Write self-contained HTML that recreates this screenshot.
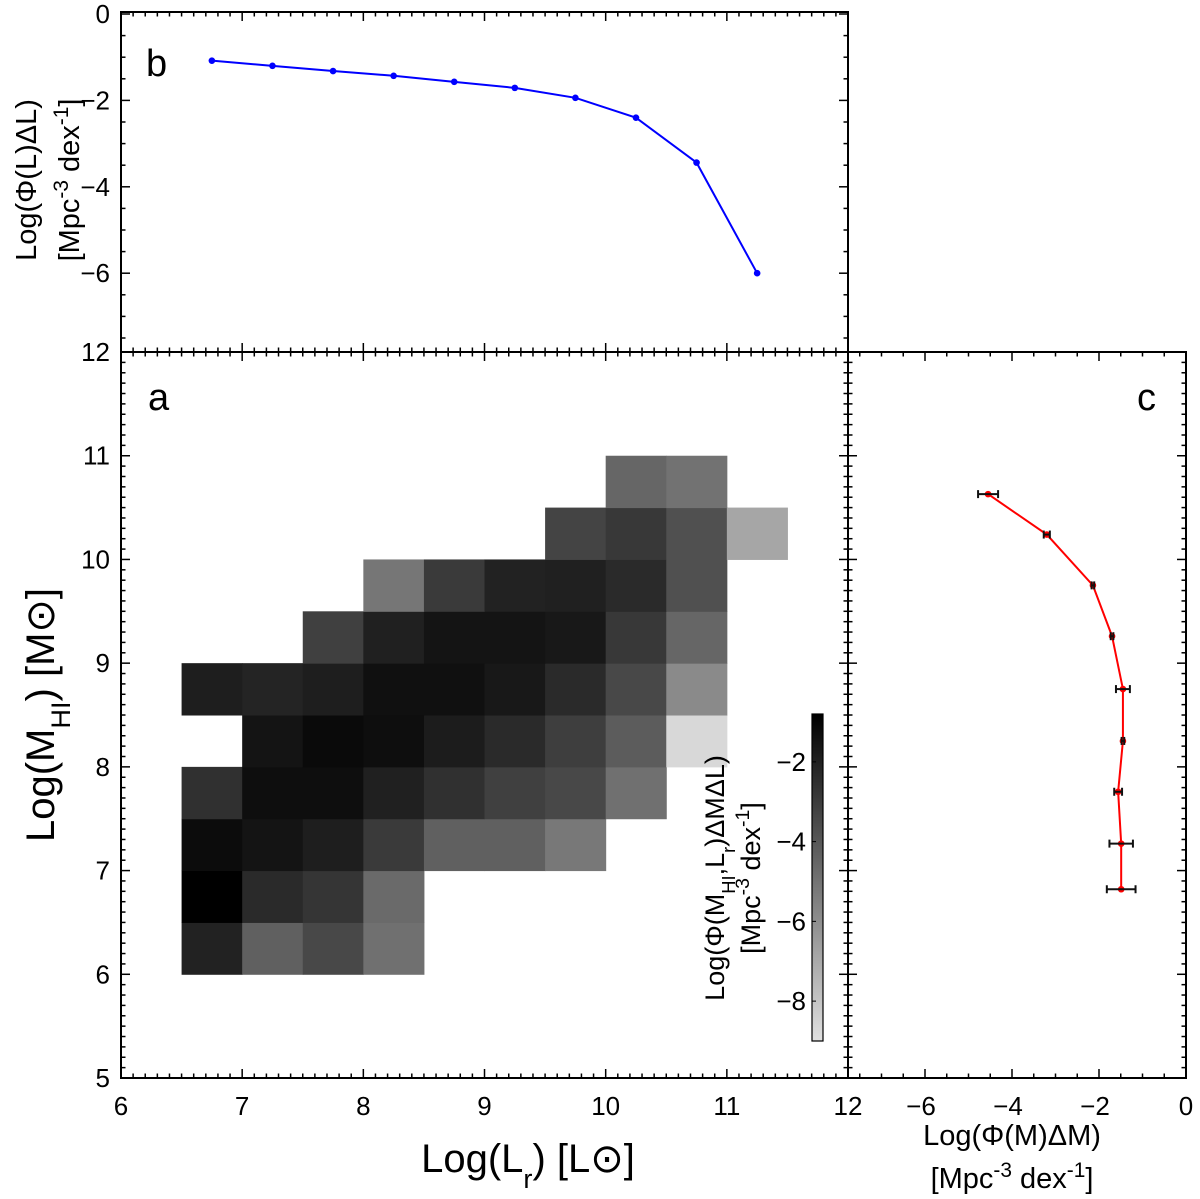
<!DOCTYPE html>
<html><head><meta charset="utf-8"><style>
html,body{margin:0;padding:0;background:#fff;}
svg{display:block;font-family:"Liberation Sans",sans-serif;}
</style></head><body>
<svg id="fig" width="1200" height="1199" viewBox="0 0 1200 1199"></svg>
<script>
// ---- data ----
const lumBins = [6.5,7,7.5,8,8.5,9,9.5,10,10.5,11];
const massBins = [6,6.5,7,7.5,8,8.5,9,9.5,10,10.5];
// heat values: rows = mass bins, columns = lum bins (null = empty)
const heatRow60 = [-2.04,-4.31,-3.44,-4.90,null,null,null,null,null,null];
const heatRow65 = [-0.80,-2.34,-2.74,-4.68,null,null,null,null,null,null];
const heatRow70 = [-1.24,-1.53,-1.90,-2.92,-4.31,-4.31,-5.19,null,null,null];
const heatRow75 = [-2.56,-1.31,-1.31,-1.97,-2.56,-3.14,-3.44,-4.90,null,null];
const heatRow80 = [null,-1.53,-1.17,-1.31,-1.82,-2.34,-3.07,-4.17,-8.70,null];
const heatRow85 = [-1.90,-2.12,-1.90,-1.39,-1.39,-1.68,-2.34,-3.44,-5.85,null];
const heatRow90 = [null,null,-3.14,-1.97,-1.53,-1.53,-1.68,-2.85,-4.53,null];
const heatRow95 = [null,null,null,-5.12,-2.92,-2.04,-1.97,-2.34,-3.73,null];
const heatRow100 = [null,null,null,null,null,null,-3.29,-2.85,-3.73,-6.88];
const heatRow105 = [null,null,null,null,null,null,null,-4.53,-4.97,null];
const heatRows = [heatRow60,heatRow65,heatRow70,heatRow75,heatRow80,heatRow85,heatRow90,heatRow95,heatRow100,heatRow105];
// panel b
const lfX = [6.75,7.25,7.75,8.25,8.75,9.25,9.75,10.25,10.75,11.25];
const lfY = [-1.08,-1.2,-1.32,-1.43,-1.57,-1.71,-1.94,-2.40,-3.44,-6.0];
// panel c
const mfM = [10.63,10.24,9.75,9.26,8.75,8.25,7.76,7.26,6.82];
const mfPhi = [-4.55,-3.2,-2.14,-1.7,-1.45,-1.45,-1.56,-1.49,-1.49];
const mfErr = [0.23,0.07,0.03,0.03,0.16,0.03,0.09,0.27,0.33];
const xTicksA = [6,7,8,9,10,11,12];
const yTicksA = [5,6,7,8,9,10,11,12];
const yTicksB = [0,-2,-4,-6];
const xTicksC = [-6,-4,-2,0];
const cbTicks = [-2,-4,-6,-8];

// ---- scales ----
const xA = v => 121 + (v-6)*121.17;
const yA = v => 1078 - (v-5)*103.71;
const yB = v => 14 - v*43.2;
const xC = v => 1186 + v*43.5;
const cbMax=-0.8, cbMin=-9.0;
const yCb = v => 714 + (cbMax-v)/(cbMax-cbMin)*327;
const grayOf = v => { const g=Math.round(Math.max(0,Math.min(1,(cbMax-v)/(cbMax-cbMin)))*224); return `rgb(${g},${g},${g})`; };

const svg=document.getElementById('fig');
const NS='http://www.w3.org/2000/svg';
function mk(tag,attrs,parent){const e=document.createElementNS(NS,tag);for(const k in attrs)e.setAttribute(k,attrs[k]);(parent||svg).appendChild(e);return e;}
function txt(s,x,y,size,anchor,parent){const t=mk('text',{x:x,y:y,'font-size':size,'text-anchor':anchor||'middle',fill:'#000'},parent);t.textContent=s;return t;}
const SUP = s => `<tspan font-size="0.72em" baseline-shift="super">${s}</tspan>`;
const SUB = s => `<tspan font-size="0.68em" baseline-shift="sub">${s}</tspan>`;
const UNITS = `[Mpc${SUP('-3')} dex${SUP('-1')}]`;

// heatmap
const gHeat=mk('g',{});


heatRows.forEach((row,ri)=>{row.forEach((v,ci)=>{ if(v===null)return;
  const r=mk('rect',{x:xA(lumBins[ci]),y:yA(massBins[ri]+0.5),width:xA(lumBins[ci]+0.5)-xA(lumBins[ci])+0.5,height:yA(massBins[ri])-yA(massBins[ri]+0.5)+0.5,fill:grayOf(v)},gHeat);
  
  
});});

// colorbar
const defs=mk('defs',{});
const lg=mk('linearGradient',{id:'cbg',x1:0,y1:0,x2:0,y2:1},defs);
mk('stop',{offset:0,'stop-color':grayOf(cbMax)},lg);
mk('stop',{offset:1,'stop-color':grayOf(cbMin)},lg);
const cb=mk('rect',{x:812,y:714,width:11,height:327,fill:'url(#cbg)',stroke:'#000','stroke-width':1.2});


cbTicks.forEach(v=>{mk('line',{x1:812,x2:816,y1:yCb(v),y2:yCb(v),stroke:'#000','stroke-width':1});
  const t=txt('−'+Math.abs(v),806,yCb(v)+9,26,'end');
  
  });
const cbt=mk('text',{transform:'translate(724,878) rotate(-90)','font-size':27,'text-anchor':'middle'});
cbt.innerHTML=`Log(Φ(M${SUB('HI')},L${SUB('r')})ΔMΔL)`;


const cbt2=mk('text',{transform:'translate(760,878) rotate(-90)','font-size':27,'text-anchor':'middle'});
cbt2.innerHTML=UNITS;



// frames
[[121,12,727,340,'panel-b-frame'],[121,352,727,726,'panel-a-frame'],[848,352,338,726,'panel-c-frame']].forEach(f=>{
  const r=mk('rect',{x:f[0],y:f[1],width:f[2],height:f[3],fill:'none',stroke:'#000','stroke-width':2});
  
  
});

const gT=mk('g',{stroke:'#000','stroke-width':1.5});
for(let i=60;i<=120;i++){const v=i/10,x=xA(v),L=(i%10===0)?9:4.5;
  [[1078,-1],[352,-1],[352,1],[12,1]].forEach(([y,d])=>mk('line',{x1:x,x2:x,y1:y,y2:y+d*L},gT));}
for(let i=50;i<=120;i++){const v=i/10,y=yA(v),L=(i%10===0)?9:4.5;
  [[121,1],[848,-1],[848,1],[1186,-1]].forEach(([x,d])=>mk('line',{x1:x,x2:x+d*L,y1:y,y2:y},gT));}
for(let i=0;i>=-15;i--){const v=i/2,y=yB(v);if(y>352)continue;const L=(i%4===0)?9:4.5;
  [[121,1],[848,-1]].forEach(([x,d])=>mk('line',{x1:x,x2:x+d*L,y1:y,y2:y},gT));}
for(let i=0;i>=-15;i--){const v=i/2,x=xC(v);if(x<848)continue;const L=(i%4===0)?9:4.5;
  [[1078,-1],[352,1]].forEach(([y,d])=>mk('line',{x1:x,x2:x,y1:y,y2:y+d*L},gT));}

// tick labels
xTicksA.forEach(v=>{const t=txt(String(v),xA(v),1115,26);});
yTicksA.forEach(v=>{const t=txt(String(v),110,yA(v)+9,26,'end');});
yTicksB.forEach(v=>{const t=txt(v===0?'0':'−'+Math.abs(v),110,yB(v)+9,26,'end');});
xTicksC.forEach(v=>{const t=txt(v===0?'0':'−'+Math.abs(v),xC(v)-(v===0?0:4),1115,26);});

// titles
const xt=mk('text',{x:528,y:1172,'font-size':40,'text-anchor':'middle'});
xt.innerHTML=`Log(L${SUB('r')}) [L⊙]`;

const yt=mk('text',{transform:'translate(54,715) rotate(-90)','font-size':40,'text-anchor':'middle'});
yt.innerHTML=`Log(M${SUB('HI')}) [M⊙]`;

const bt=mk('text',{transform:'translate(36,180) rotate(-90)','font-size':29,'text-anchor':'middle'});
bt.textContent='Log(Φ(L)ΔL)';

const bt2=mk('text',{transform:'translate(79,180) rotate(-90)','font-size':29,'text-anchor':'middle'});
bt2.innerHTML=UNITS;

const ct=txt('Log(Φ(M)ΔM)',1012,1145,29);
const ct2=mk('text',{x:1012,y:1188,'font-size':29,'text-anchor':'middle'});
ct2.innerHTML=UNITS;

[['b',146,76,'panel-b-label'],['a',148,410,'panel-a-label'],['c',1137,410,'panel-c-label']].forEach(p=>{const t=txt(p[0],p[1],p[2],38,'start');});

// panel b line
const pb=mk('polyline',{points:lfX.map((x,i)=>xA(x)+','+yB(lfY[i])).join(' '),fill:'none',stroke:'#0000ff','stroke-width':2});

lfX.forEach((x,i)=>{const c=mk('circle',{cx:xA(x),cy:yB(lfY[i]),r:3.3,fill:'#0000ff'});
  });

// panel c line
const pc=mk('polyline',{points:mfM.map((m,i)=>xC(mfPhi[i])+','+yA(m)).join(' '),fill:'none',stroke:'#ff0000','stroke-width':2});

mfM.forEach((m,i)=>{const y=yA(m);
  const c=mk('circle',{cx:xC(mfPhi[i]),cy:y,r:3.3,fill:'#ff0000'});
  
  const g=mk('g',{stroke:'#111','stroke-width':2});
  
  const x1=xC(mfPhi[i]-mfErr[i]),x2=xC(mfPhi[i]+mfErr[i]);
  mk('line',{x1:x1,x2:x2,y1:y,y2:y},g);
  mk('line',{x1:x1,x2:x1,y1:y-4,y2:y+4},g);
  mk('line',{x1:x2,x2:x2,y1:y-4,y2:y+4},g);
});
</script>
</body></html>
